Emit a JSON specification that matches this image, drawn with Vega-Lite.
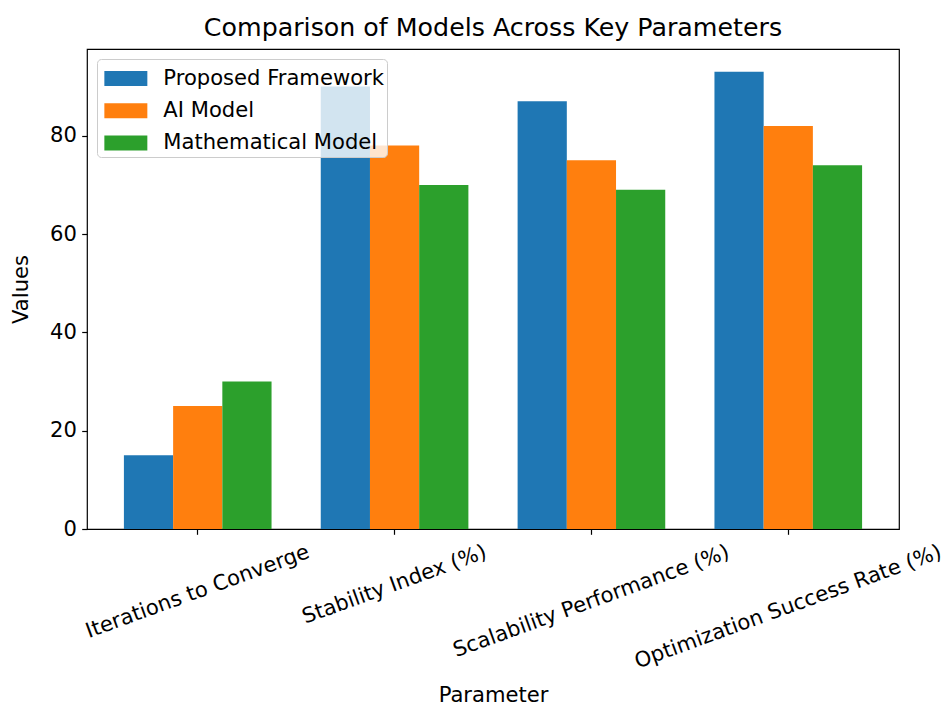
{
  "$schema": "https://vega.github.io/schema/vega-lite/v6.json",
  "width": 812,
  "height": 480,
  "autosize": {"type": "none"},
  "padding": {"left": 87, "top": 49, "right": 47, "bottom": 177},
  "background": "white",
  "title": {
    "text": "Comparison of Models Across Key Parameters",
    "fontSize": 25.3,
    "fontWeight": "normal",
    "font": "DejaVu Sans",
    "color": "black",
    "anchor": "middle",
    "baseline": "alphabetic",
    "offset": -12
  },
  "data": {
    "values": [
      {"parameter": "Iterations to Converge", "model": "Proposed Framework", "value": 15},
      {"parameter": "Iterations to Converge", "model": "AI Model", "value": 25},
      {"parameter": "Iterations to Converge", "model": "Mathematical Model", "value": 30},
      {"parameter": "Stability Index (%)", "model": "Proposed Framework", "value": 90},
      {"parameter": "Stability Index (%)", "model": "AI Model", "value": 78},
      {"parameter": "Stability Index (%)", "model": "Mathematical Model", "value": 70},
      {"parameter": "Scalability Performance (%)", "model": "Proposed Framework", "value": 87},
      {"parameter": "Scalability Performance (%)", "model": "AI Model", "value": 75},
      {"parameter": "Scalability Performance (%)", "model": "Mathematical Model", "value": 69},
      {"parameter": "Optimization Success Rate (%)", "model": "Proposed Framework", "value": 93},
      {"parameter": "Optimization Success Rate (%)", "model": "AI Model", "value": 82},
      {"parameter": "Optimization Success Rate (%)", "model": "Mathematical Model", "value": 74}
    ]
  },
  "mark": {"type": "bar", "strokeWidth": 0},
  "encoding": {
    "x": {
      "field": "parameter",
      "type": "nominal",
      "sort": ["Iterations to Converge", "Stability Index (%)", "Scalability Performance (%)", "Optimization Success Rate (%)"],
      "scale": {"paddingInner": 0.25, "paddingOuter": 0.1875},
      "axis": {
        "title": "Parameter",
        "domain": false,
        "grid": false,
        "ticks": true,
        "tickSize": 5.3,
        "tickWidth": 1.2,
        "tickColor": "black",
        "labelFont": "DejaVu Sans",
        "labelFontSize": 21.1,
        "labelColor": "black",
        "labelAngle": -20,
        "labelAlign": "center",
        "labelBaseline": "middle",
        "labelLimit": 500,
        "labelOverlap": false,
        "labelPadding": {
          "condition": [
            {"test": "datum.value === 'Iterations to Converge'", "value": 57.3},
            {"test": "datum.value === 'Stability Index (%)'", "value": 50.2},
            {"test": "datum.value === 'Scalability Performance (%)'", "value": 67.0}
          ],
          "value": 72.5
        },
        "titleFont": "DejaVu Sans",
        "titleFontSize": 21.1,
        "titleFontWeight": "normal",
        "titleColor": "black",
        "titlePadding": 13
      }
    },
    "xOffset": {
      "field": "model",
      "type": "nominal",
      "scale": {"domain": ["Proposed Framework", "AI Model", "Mathematical Model"], "paddingInner": 0, "paddingOuter": 0}
    },
    "y": {
      "field": "value",
      "type": "quantitative",
      "scale": {"domain": [0, 97.65], "nice": false, "zero": true},
      "axis": {
        "title": "Values",
        "values": [0, 20, 40, 60, 80],
        "domain": false,
        "grid": false,
        "tickSize": 5.3,
        "tickWidth": 1.2,
        "tickColor": "black",
        "labelFont": "DejaVu Sans",
        "labelFontSize": 21.1,
        "labelColor": "black",
        "labelPadding": 5.3,
        "titleFont": "DejaVu Sans",
        "titleFontSize": 21.1,
        "titleFontWeight": "normal",
        "titleColor": "black",
        "titlePadding": 18
      }
    },
    "color": {
      "field": "model",
      "type": "nominal",
      "scale": {
        "domain": ["Proposed Framework", "AI Model", "Mathematical Model"],
        "range": ["#1f77b4", "#ff7f0e", "#2ca02c"]
      },
      "legend": {
        "title": null,
        "orient": "top-left",
        "offset": 10,
        "symbolType": "M-1.331,-0.464H1.331V0.464H-1.331Z",
        "symbolSize": 1043,
        "symbolStrokeWidth": 0,
        "symbolOpacity": 1,
        "symbolOffset": 9.35,
        "labelFont": "DejaVu Sans",
        "labelFontSize": 21.1,
        "labelColor": "black",
        "labelLimit": 500,
        "labelOffset": 21,
        "rowPadding": 5.3,
        "padding": 3,
        "strokeColor": "#cccccc",
        "fillColor": "rgba(255,255,255,0.8)",
        "cornerRadius": 4
      }
    }
  },
  "config": {
    "font": "DejaVu Sans",
    "view": {"stroke": "black", "strokeWidth": 1.2}
  }
}
